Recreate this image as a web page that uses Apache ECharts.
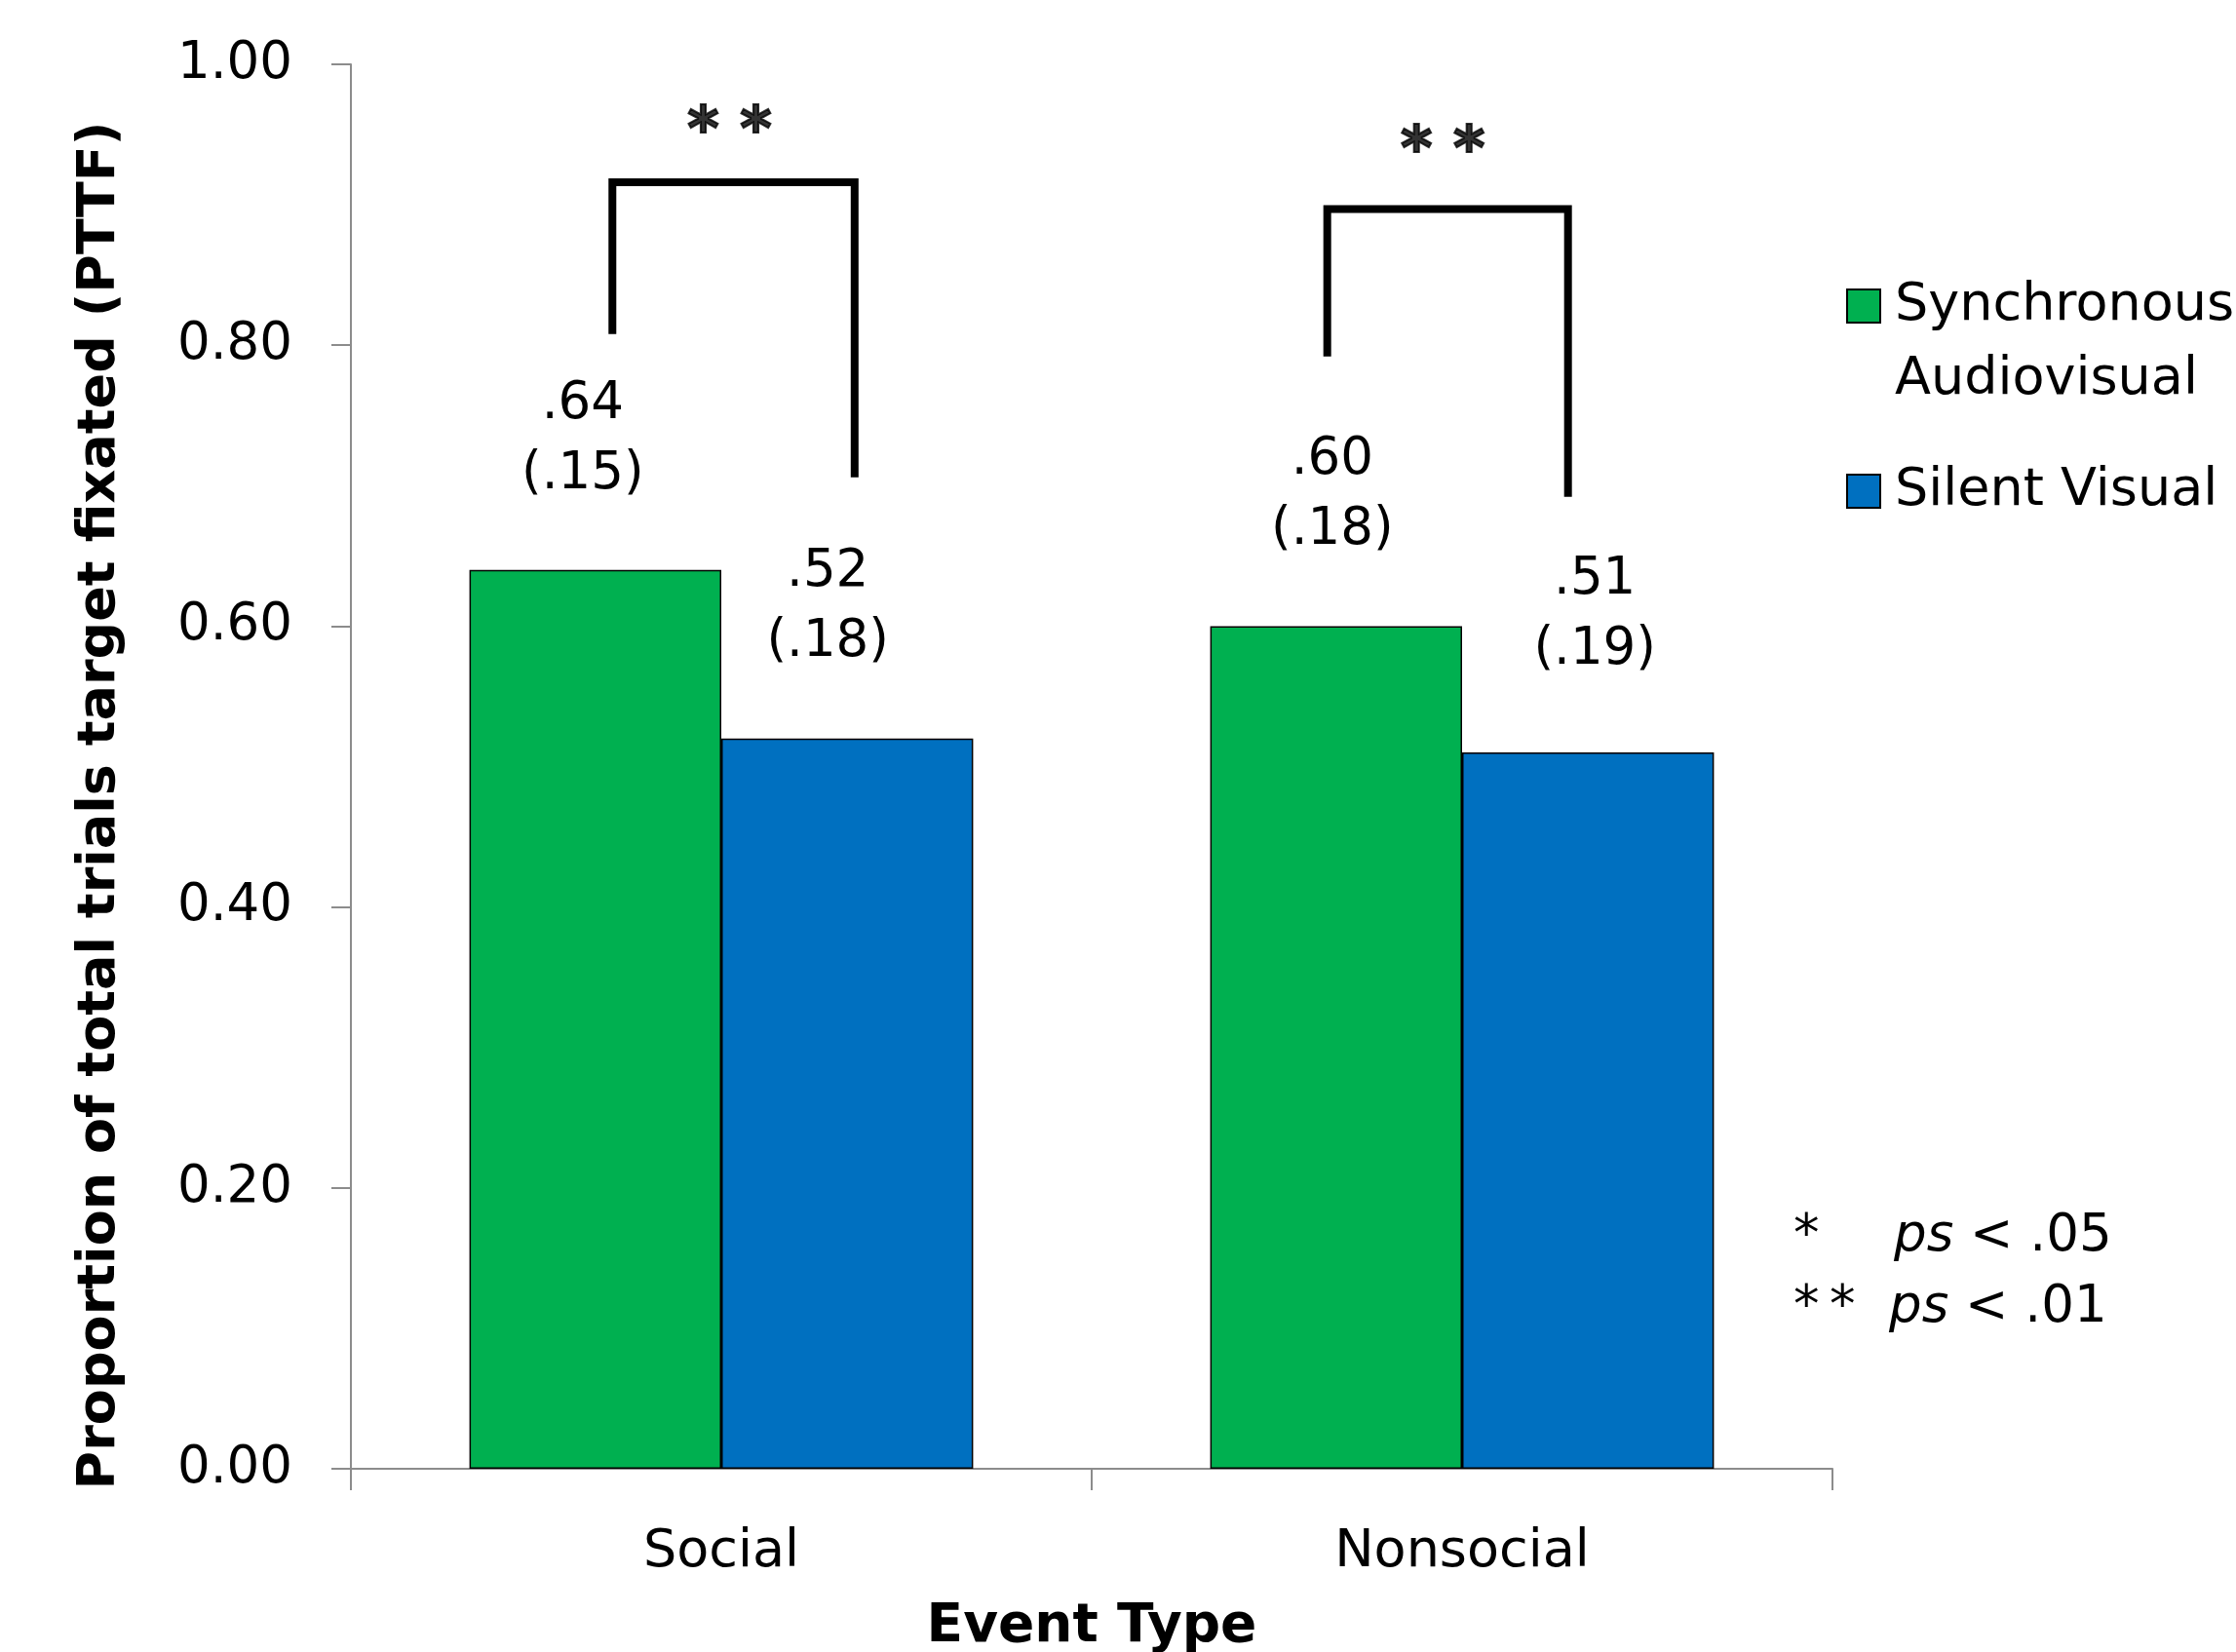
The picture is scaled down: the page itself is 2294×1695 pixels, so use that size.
<!DOCTYPE html>
<html>
<head>
<meta charset="utf-8">
<script src="https://cdn.jsdelivr.net/npm/echarts@6/dist/echarts.min.js"></script>
<style>
  html, body { margin: 0; padding: 0; background: #fff; }
  #chart { width: 2294px; height: 1695px; }
</style>
</head>
<body>
<div id="chart"></div>
<script>
const categories = ['Social', 'Nonsocial']
const seriesNames = ['Synchronous\nAudiovisual', 'Silent Visual']
const syncMeans = [0.64, 0.60]
const syncSDs = [0.15, 0.18]
const silentMeans = [0.52, 0.51]
const silentSDs = [0.18, 0.19]

// significance brackets, x on a 0..2 scale (one unit per category)
const bracketLegX = [[0.353, 0.680], [1.318, 1.643]]
const bracketLegBottom = [[0.808, 0.706], [0.792, 0.692]]
const bracketTop = [0.916, 0.897]
const starMarks = ['* *', '* *']
const starPos = [[0.511, 0.951], [1.474, 0.937]]

// small nudges of the value labels, as placed by hand in the original
const syncLabelShift = [[-13, 0], [-4, 0]]
const silentLabelShift = [[-20, 0], [7, -7]]

const FONT = '"DejaVu Sans", Tahoma, Verdana, sans-serif'
const axisGray = '#8c8c8c'
const colors = ['#00B050', '#0070C0']

const fmt = v => v.toFixed(2).replace(/^0/, '')

function barData(values, shifts) {
  return values.map((v, i) => ({ value: v, label: { offset: shifts[i] } }))
}

function barLabel(sds) {
  return {
    show: true,
    position: 'top',
    distance: 62,
    fontFamily: FONT,
    fontSize: 53,
    lineHeight: 72,
    color: '#000',
    formatter: p => fmt(p.value) + '\n(' + fmt(sds[p.dataIndex]) + ')'
  }
}

const bracketSeries = bracketLegX.map((xs, i) => ({
  type: 'line',
  xAxisIndex: 1,
  symbol: 'none',
  silent: true,
  lineStyle: { color: '#000', width: 8, cap: 'butt', join: 'miter' },
  data: [
    [xs[0], bracketLegBottom[i][0]],
    [xs[0], bracketTop[i]],
    [xs[1], bracketTop[i]],
    [xs[1], bracketLegBottom[i][1]]
  ]
}))

const footStyle = { fontFamily: FONT, fontSize: 53, fill: '#000' }
const italic = { i: { fontStyle: 'italic', fontFamily: FONT, fontSize: 53 } }

const chart = echarts.init(document.getElementById('chart'))

chart.setOption({
  animation: false,
  backgroundColor: '#fff',
  grid: { left: 360, right: 414, top: 66, bottom: 188, outerBoundsMode: 'none' },
  legend: {
    data: seriesNames,
    orient: 'vertical',
    left: 1894,
    top: 200,
    padding: 0,
    itemGap: 38,
    itemWidth: 34,
    itemHeight: 34,
    icon: 'rect',
    selectedMode: false,
    // leading blank line keeps the first line level with the swatch
    formatter: name => (name.indexOf('\n') >= 0 ? '\n' + name : name),
    textStyle: { fontFamily: FONT, fontSize: 54, lineHeight: 76, color: '#000', padding: [0, 0, 0, 10] }
  },
  xAxis: [
    {
      type: 'category',
      data: categories,
      name: 'Event Type',
      nameLocation: 'middle',
      nameGap: 135,
      nameTextStyle: { fontFamily: FONT, fontSize: 55, fontWeight: 'bold', color: '#000' },
      axisLine: { lineStyle: { color: axisGray, width: 2 } },
      axisTick: { show: true, length: 22, lineStyle: { color: axisGray, width: 2 } },
      axisLabel: { fontFamily: FONT, fontSize: 54, color: '#000', margin: 59 },
      splitLine: { show: false }
    },
    { type: 'value', min: 0, max: 2, show: false }
  ],
  yAxis: {
    type: 'value',
    min: 0,
    max: 1,
    interval: 0.2,
    name: 'Proportion of total trials target fixated (PTTF)',
    nameLocation: 'middle',
    nameRotate: 90,
    nameGap: 230,
    nameTextStyle: {
      fontFamily: FONT, fontSize: 54, fontWeight: 'bold', color: '#000',
      padding: [0, 80, 0, 0]
    },
    axisLine: { show: true, lineStyle: { color: axisGray, width: 2 } },
    axisTick: { show: true, length: 20, lineStyle: { color: axisGray, width: 2 } },
    axisLabel: {
      fontFamily: FONT, fontSize: 53, color: '#000', margin: 60,
      formatter: v => v.toFixed(2)
    },
    splitLine: { show: false }
  },
  series: [
    {
      name: seriesNames[0],
      type: 'bar',
      data: barData(syncMeans, syncLabelShift),
      barGap: '0%',
      barCategoryGap: '32%',
      itemStyle: { color: colors[0], borderColor: '#000', borderWidth: 1.5 },
      label: barLabel(syncSDs)
    },
    {
      name: seriesNames[1],
      type: 'bar',
      data: barData(silentMeans, silentLabelShift),
      barGap: '0%',
      barCategoryGap: '32%',
      itemStyle: { color: colors[1], borderColor: '#000', borderWidth: 1.5 },
      label: barLabel(silentSDs)
    },
    ...bracketSeries,
    {
      type: 'scatter',
      xAxisIndex: 1,
      symbolSize: 0,
      silent: true,
      data: starPos,
      label: {
        show: true,
        position: 'inside',
        fontFamily: FONT,
        fontSize: 62,
        fontWeight: 'bold',
        color: '#000',
        textBorderColor: '#000',
        textBorderWidth: 2,
        formatter: p => starMarks[p.dataIndex]
      }
    }
  ],
  graphic: [
    { type: 'text', left: 1840, top: 1243, style: Object.assign({ text: '*' }, footStyle) },
    { type: 'text', left: 1943, top: 1243, style: Object.assign({ text: '{i|ps} < .05', rich: italic }, footStyle) },
    { type: 'text', left: 1840, top: 1316, style: Object.assign({ text: '*\u2009*' }, footStyle) },
    { type: 'text', left: 1938, top: 1316, style: Object.assign({ text: '{i|ps} < .01', rich: italic }, footStyle) }
  ]
})
</script>
</body>
</html>
